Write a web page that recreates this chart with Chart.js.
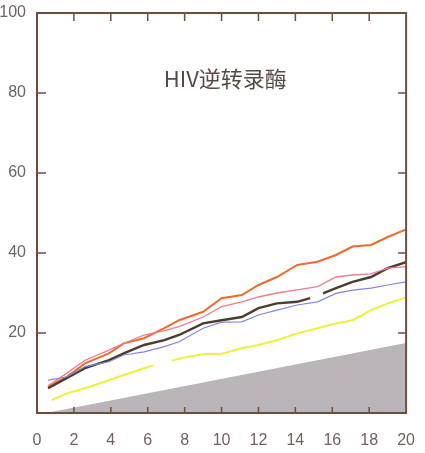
<!DOCTYPE html>
<html>
<head>
<meta charset="utf-8">
<script src="https://cdn.jsdelivr.net/npm/chart.js@4"></script>
<style>
  html, body { margin: 0; padding: 0; background: #ffffff; }
  #wrap { width: 425px; height: 453px; position: relative; }
</style>
</head>
<body>
<div id="wrap"><canvas id="chart"></canvas></div>
<script>
// ============================================
// DATA
// ============================================
const xs = [0.6, 1.6, 2.6, 3.9, 4.7, 5.8, 6.9, 7.7, 9, 10, 11.1, 12, 13, 14.1, 15.2, 16.2, 17.1, 18.1, 19, 20];
const orangeVals = [6.6, 9, 12.4, 14.9, 17.4, 18.7, 21.2, 23.2, 25.3, 28.7, 29.5, 32, 34, 37, 37.8, 39.5, 41.6, 42, 44, 45.9];
const pinkVals   = [6.8, 9.9, 13.2, 15.7, 17.4, 19.5, 20.6, 21.6, 24, 26.6, 27.8, 29, 30, 30.8, 31.6, 34, 34.5, 34.8, 36.2, 36.6];
const blueVals   = [8.2, 9, 11.6, 12.8, 14.5, 15.3, 16.6, 17.8, 21.2, 22.7, 22.8, 24.5, 25.7, 27, 27.8, 29.9, 30.7, 31.2, 32, 32.8];
// brown and yellow have a short break in the print
const brownX     = [0.6, 1.6, 2.6, 3.9, 4.7, 5.8, 6.9, 7.7, 9, 10, 11.1, 12, 13, 14.1, 14.8, 15.1, 15.5, 16.2, 17.1, 18.1, 19, 20];
const brownVals  = [6.2, 8.7, 11.2, 13.2, 14.9, 17, 18.2, 19.5, 22.4, 23.2, 24, 26.2, 27.4, 27.8, 28.7, null, 29.9, 31.2, 32.8, 34, 36.2, 37.7];
const yellowX    = [0.8, 1.6, 2.6, 3.9, 4.7, 5.8, 6.3, 6.8, 7.3, 8.1, 9, 10, 11.1, 12, 13, 14.1, 15.2, 16.2, 17.1, 18.1, 19, 20];
const yellowVals = [3.2, 4.9, 6.2, 8.2, 9.5, 11.2, 11.9, null, 13.1, 14, 14.7, 14.8, 16.2, 17, 18.2, 19.9, 21.2, 22.4, 23.2, 25.7, 27.4, 28.9];
const shadeX = [0.5, 20];
const shadeY = [0, 17.5];
const xTicks = [0, 2, 4, 6, 8, 10, 12, 14, 16, 18, 20];
const yTicks = [20, 40, 60, 80, 100];
const titleText = 'HIV逆转录酶';

const pts = (xv, vals) => xv.map((x, i) => ({ x: x, y: vals[i] }));

// frame + inward ticks + title inside the plot
const framePlugin = {
  id: 'frame',
  afterDatasetsDraw(chart) {
    const { ctx, chartArea: a, scales: { x, y } } = chart;
    ctx.save();
    ctx.strokeStyle = '#6e4e3e';
    ctx.lineWidth = 2;
    ctx.strokeRect(a.left, a.top, a.right - a.left, a.bottom - a.top);
    ctx.lineWidth = 1.5;
    ctx.beginPath();
    xTicks.slice(1, -1).forEach(v => {
      const px = x.getPixelForValue(v);
      ctx.moveTo(px, a.bottom); ctx.lineTo(px, a.bottom - 6);
      ctx.moveTo(px, a.top); ctx.lineTo(px, a.top + 8);
    });
    yTicks.slice(0, -1).forEach(v => {
      const py = y.getPixelForValue(v);
      ctx.moveTo(a.left, py); ctx.lineTo(a.left + 9, py);
      ctx.moveTo(a.right, py); ctx.lineTo(a.right - 8, py);
    });
    ctx.stroke();
    ctx.fillStyle = '#5a4842';
    ctx.font = '22px "Noto Sans CJK SC", "Liberation Sans", sans-serif';
    ctx.textAlign = 'center';
    ctx.textBaseline = 'middle';
    ctx.fillText(titleText, x.getPixelForValue(10.2), y.getPixelForValue(83.5));
    ctx.restore();
  }
};

const lineDs = (label, xv, vals, color, width) => ({
  label: label,
  data: pts(xv, vals),
  borderColor: color,
  borderWidth: width,
  pointRadius: 0,
  tension: 0,
  spanGaps: false,
  fill: false
});

new Chart(document.getElementById('chart'), {
  type: 'line',
  data: {
    datasets: [
      {
        label: 'shade',
        data: pts(shadeX, shadeY),
        borderWidth: 0,
        pointRadius: 0,
        backgroundColor: '#b9b5b8',
        fill: 'origin'
      },
      lineDs('yellow', yellowX, yellowVals, '#eef03a', 2),
      lineDs('blue', xs, blueVals, '#7f86e6', 1.2),
      lineDs('pink', xs, pinkVals, '#f07b8e', 1.3),
      lineDs('brown', brownX, brownVals, '#4a3d2c', 2.4),
      lineDs('orange', xs, orangeVals, '#f06a2c', 2)
    ]
  },
  options: {
    responsive: true,
    maintainAspectRatio: false,
    animation: false,
    layout: { padding: { top: 13, right: 10, left: 0, bottom: 0 } },
    plugins: { legend: { display: false }, tooltip: { enabled: false } },
    scales: {
      x: {
        type: 'linear', min: 0, max: 20,
        afterBuildTicks: s => { s.ticks = xTicks.map(v => ({ value: v })); },
        afterFit: s => { s.height = 40; },
        grid: { display: false }, border: { display: false },
        ticks: { padding: 10, color: '#6f6260', font: { size: 16, family: 'Liberation Sans' }, maxRotation: 0 }
      },
      y: {
        min: 0, max: 100,
        afterBuildTicks: s => { s.ticks = yTicks.map(v => ({ value: v })); },
        afterFit: s => { s.width = 37; },
        grid: { display: false }, border: { display: false },
        ticks: { padding: 3, color: '#6f6260', font: { size: 16, family: 'Liberation Sans' } }
      }
    }
  },
  plugins: [framePlugin]
});
</script>
</body>
</html>
